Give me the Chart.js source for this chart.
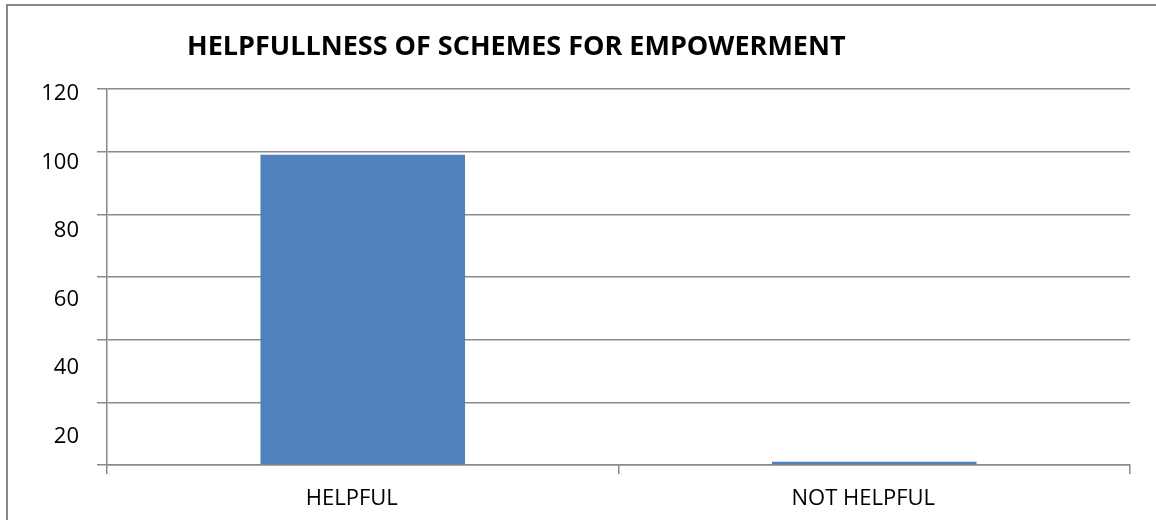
<!DOCTYPE html>
<html>
<head>
<meta charset="utf-8">
<title>Helpfullness of schemes for empowerment</title>
<script src="https://cdn.jsdelivr.net/npm/chart.js@4"></script>
<style>
  html, body { margin: 0; padding: 0; background: #ffffff; }
  #wrap { position: relative; width: 1156px; height: 520px; overflow: hidden; }
  #frame {
    position: absolute; left: 6px; top: 4px; right: -4px; bottom: -4px;
    border-left: 2px solid #888888; border-top: 2px solid #888888;
  }
  #chart { position: absolute; left: 0; top: 0; }
</style>
</head>
<body>
<div id="wrap">
  <div id="frame"></div>
  <canvas id="chart" width="1156" height="520"></canvas>
</div>
<script>
// Survey answers: share of respondents per answer
const categories = ['HELPFUL', 'NOT HELPFUL'];
const responses = [99, 1];
const yTickValues = [20, 40, 60, 80, 100, 120];
const chartTitle = 'HELPFULLNESS OF SCHEMES FOR EMPOWERMENT';

const gridGrey = '#8a8a8a';
const barBlue = '#4f81bd';
const fontFamily = '"Open Sans", "Liberation Sans", sans-serif';

// Heading drawn left of centre, above the plot area
const headingPlugin = {
  id: 'heading',
  afterDraw(chart) {
    const ctx = chart.ctx;
    ctx.save();
    ctx.font = 'bold 27px ' + fontFamily;
    ctx.fillStyle = '#000000';
    ctx.textAlign = 'left';
    ctx.textBaseline = 'alphabetic';
    ctx.fillText(chartTitle, chart.chartArea.left + 80, 55);
    ctx.restore();
  }
};

new Chart(document.getElementById('chart'), {
  type: 'bar',
  data: {
    labels: categories,
    datasets: [{
      data: responses,
      backgroundColor: barBlue,
      borderWidth: 0,
      categoryPercentage: 1,
      barPercentage: 0.4
    }]
  },
  options: {
    responsive: false,
    animation: false,
    layout: { padding: { top: 89, right: 26, bottom: 0, left: 0 } },
    plugins: {
      legend: { display: false },
      title: { display: false },
      tooltip: { enabled: false }
    },
    scales: {
      x: {
        grid: {
          offset: true,
          drawOnChartArea: false,
          drawTicks: true,
          tickLength: 9,
          color: gridGrey,
          lineWidth: 1.5
        },
        border: { display: true, color: gridGrey, width: 1.5 },
        ticks: {
          color: '#000000',
          font: { family: fontFamily, size: 22 },
          padding: 12,
          labelOffset: -11
        },
        afterFit(scale) { scale.height = 55; }
      },
      y: {
        position: 'left',
        weight: 0,
        min: 0,
        max: 120,
        ticks: { display: false, stepSize: 20 },
        grid: {
          color: gridGrey,
          lineWidth: 1.5,
          drawTicks: true,
          tickLength: 10
        },
        border: { display: true, color: gridGrey, width: 1.5 },
        afterFit(scale) { scale.width = 10; }
      },
      yLabels: {
        type: 'linear',
        position: 'left',
        weight: 1,
        min: 11.74,
        max: 121.46,
        grid: { display: false, drawTicks: false },
        border: { display: false },
        ticks: {
          color: '#000000',
          font: { family: fontFamily, size: 22 },
          padding: 18
        },
        afterBuildTicks(scale) {
          scale.ticks = yTickValues.map(v => ({ value: v }));
        },
        afterFit(scale) { scale.width = 97; }
      }
    }
  },
  plugins: [headingPlugin]
});
</script>
</body>
</html>
